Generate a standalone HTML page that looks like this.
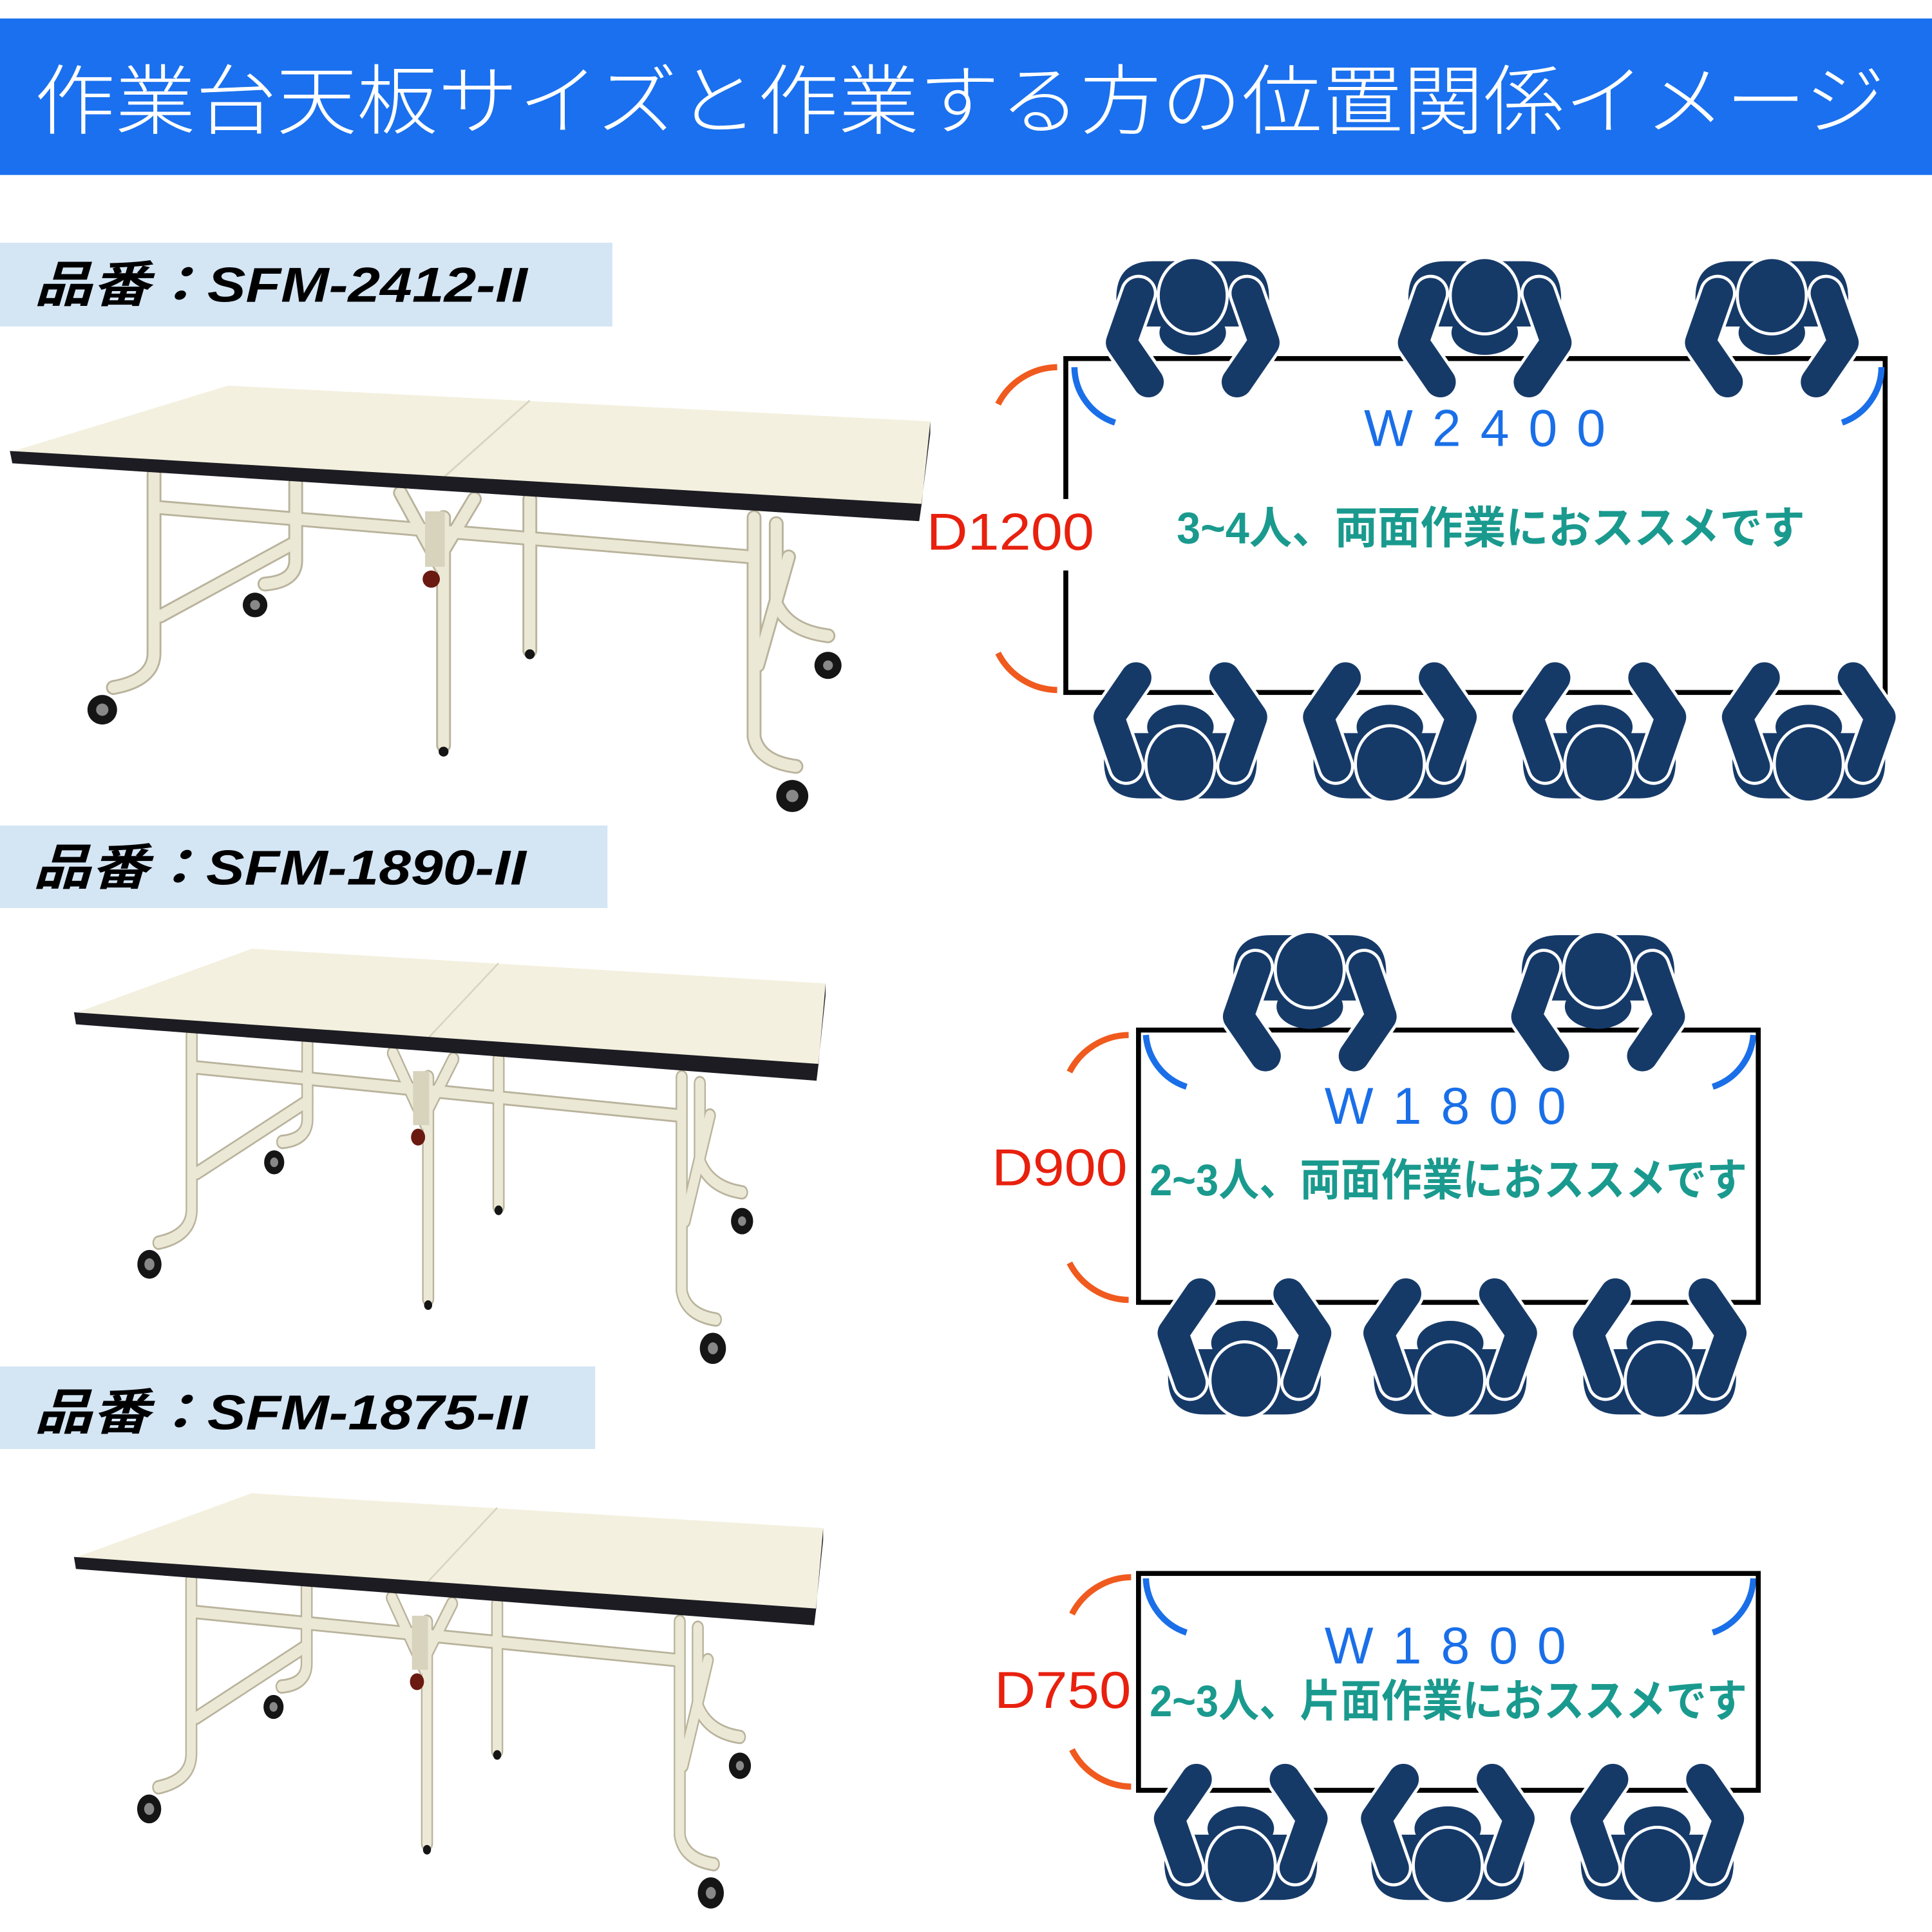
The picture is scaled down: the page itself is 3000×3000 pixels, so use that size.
<!DOCTYPE html>
<html><head><meta charset="utf-8"><style>
html,body{margin:0;padding:0;background:#fff;}
svg{display:block;}
text{font-family:"Liberation Sans","Noto Sans CJK JP",sans-serif;}
</style></head><body>
<svg width="3000" height="3000" viewBox="0 0 1568 1568" xmlns="http://www.w3.org/2000/svg">
<defs>
<g id="pt">
  <path d="M-62,25 L-62,2 Q-62,-28 -32,-28 L32,-28 Q62,-28 62,2 L62,25 Z" fill="#163a68"/>
  <polyline points="-44,-2 -58,38 -36,70" fill="none" stroke="#fff" stroke-width="30" stroke-linecap="round" stroke-linejoin="round"/>
  <polyline points="44,-2 58,38 36,70" fill="none" stroke="#fff" stroke-width="30" stroke-linecap="round" stroke-linejoin="round"/>
  <polyline points="-44,-2 -58,38 -36,70" fill="none" stroke="#163a68" stroke-width="25" stroke-linecap="round" stroke-linejoin="round"/>
  <polyline points="44,-2 58,38 36,70" fill="none" stroke="#163a68" stroke-width="25" stroke-linecap="round" stroke-linejoin="round"/>
  <ellipse cx="0" cy="30" rx="27" ry="18" fill="#163a68"/>
  <ellipse cx="0" cy="0" rx="28" ry="31" fill="#163a68" stroke="#fff" stroke-width="2.5"/>
</g>
<g id="pb"><use href="#pt" transform="scale(1,-1)"/></g>
<g id="tbl">
  <g fill="none" stroke-linecap="round">
    <g stroke="#b9b39c" stroke-width="12">
      <path d="M240,392 L240,455 Q240,472 215,474"/>
      <path d="M630,425 L630,490 Q640,512 672,516"/>
      <path d="M430,405 L430,528"/>
      <path d="M125,385 L125,530 Q125,552 92,558"/>
      <path d="M612,420 L612,598 Q616,618 646,622"/>
      <path d="M360,420 L360,605"/>
      <path d="M130,412 L610,452"/>
      <path d="M240,440 L130,500"/>
      <path d="M640,452 L615,540"/>
      <path d="M325,400 L355,455 L385,405"/>
    </g>
    <g stroke="#ece8d6" stroke-width="9">
      <path d="M240,392 L240,455 Q240,472 215,474"/>
      <path d="M630,425 L630,490 Q640,512 672,516"/>
      <path d="M430,405 L430,528"/>
      <path d="M125,385 L125,530 Q125,552 92,558"/>
      <path d="M612,420 L612,598 Q616,618 646,622"/>
      <path d="M360,420 L360,605"/>
      <path d="M130,412 L610,452"/>
      <path d="M240,440 L130,500"/>
      <path d="M640,452 L615,540"/>
      <path d="M325,400 L355,455 L385,405"/>
    </g>
  </g>
  <rect x="345" y="415" width="16" height="45" fill="#d8d3bd"/>
  <circle cx="350" cy="470" r="7" fill="#6a1a10"/>
  <circle cx="83" cy="576" r="12" fill="#151515"/><circle cx="83" cy="576" r="5" fill="#888"/>
  <circle cx="207" cy="491" r="10" fill="#151515"/><circle cx="207" cy="491" r="4" fill="#888"/>
  <circle cx="643" cy="646" r="13" fill="#151515"/><circle cx="643" cy="646" r="5" fill="#888"/>
  <circle cx="672" cy="540" r="11" fill="#151515"/><circle cx="672" cy="540" r="4" fill="#888"/>
  <circle cx="360" cy="610" r="4" fill="#151515"/>
  <circle cx="430" cy="531" r="4" fill="#151515"/>
  <polygon points="8,367 185,313 755,342 748,410" fill="#f3f0df"/>
  <line x1="430" y1="325" x2="355" y2="392" stroke="#d8d4c0" stroke-width="1.5"/>
  <polygon points="8,366 748,409 746,423 10,376" fill="#1c1c22"/>
  <polygon points="748,409 755,342 755,352 746,423" fill="#2a2a30"/>
</g>
</defs>

<rect x="0" y="15" width="1568" height="127" fill="#1a70ee"/>
<text x="28" y="104" font-size="62" fill="#fff" font-weight="300" textLength="1502" lengthAdjust="spacingAndGlyphs">作業台天板サイズと作業する方の位置関係イメージ</text>

<rect x="0" y="197" width="497" height="68" fill="#d4e5f4"/>
<text x="28" y="245" font-size="40" font-weight="bold" font-style="italic" fill="#000" textLength="400" lengthAdjust="spacingAndGlyphs">品番：SFM-2412-II</text>
<rect x="0" y="670" width="493" height="67" fill="#d4e5f4"/>
<text x="27" y="718" font-size="40" font-weight="bold" font-style="italic" fill="#000" textLength="400" lengthAdjust="spacingAndGlyphs">品番：SFM-1890-II</text>
<rect x="0" y="1109" width="483" height="67" fill="#d4e5f4"/>
<text x="28" y="1160" font-size="40" font-weight="bold" font-style="italic" fill="#000" textLength="400" lengthAdjust="spacingAndGlyphs">品番：SFM-1875-II</text>

<use href="#tbl"/>
<use href="#tbl" transform="translate(53.5,465.1) scale(0.8166,0.974)"/>
<use href="#tbl" transform="translate(53.5,907.1) scale(0.814,0.974)"/>

<rect x="865" y="291" width="665" height="271" fill="none" stroke="#000" stroke-width="4"/>
<rect x="858" y="405" width="14" height="58" fill="#fff"/>
<use href="#pt" x="968" y="240"/><use href="#pt" x="1205" y="240"/><use href="#pt" x="1438" y="240"/>
<use href="#pb" x="958" y="620"/><use href="#pb" x="1128" y="620"/><use href="#pb" x="1298" y="620"/><use href="#pb" x="1468" y="620"/>
<g fill="none" stroke="#1a6fe8" stroke-width="5">
<path d="M872,298 A48,48 0 0 0 905,343"/><path d="M1527,298 A48,48 0 0 1 1495,343"/>
<path d="M930,840 A48,48 0 0 0 963,882"/><path d="M1423,840 A48,48 0 0 1 1390,882"/>
<path d="M930,1281 A48,48 0 0 0 963,1325"/><path d="M1423,1281 A48,48 0 0 1 1390,1325"/>
</g>
<g fill="none" stroke="#f05a1e" stroke-width="5">
<path d="M858,298 A55,55 0 0 0 810,328"/><path d="M810,530 A55,55 0 0 0 858,560"/>
<path d="M916,840 A55,55 0 0 0 868,870"/><path d="M868,1025 A55,55 0 0 0 916,1055"/>
<path d="M918,1280 A55,55 0 0 0 870,1310"/><path d="M870,1420 A55,55 0 0 0 918,1450"/>
</g>
<text x="1107" y="362" font-size="42" fill="#1a6fe8" textLength="196" lengthAdjust="spacing">W2400</text>
<text x="752" y="446" font-size="42" fill="#e8200e" textLength="136" lengthAdjust="spacingAndGlyphs">D1200</text>
<text x="955" y="441" font-size="36" font-weight="bold" fill="#1a9a8e" textLength="510" lengthAdjust="spacingAndGlyphs">3~4人、両面作業におススメです</text>

<rect x="924" y="836" width="503" height="221" fill="none" stroke="#000" stroke-width="4"/>
<use href="#pt" x="1063" y="787"/><use href="#pt" x="1297" y="787"/>
<use href="#pb" x="1010" y="1120"/><use href="#pb" x="1177" y="1120"/><use href="#pb" x="1347" y="1120"/>
<text x="1075" y="912" font-size="42" fill="#1a6fe8" textLength="196" lengthAdjust="spacing">W1800</text>
<text x="805" y="962" font-size="42" fill="#e8200e" textLength="110" lengthAdjust="spacingAndGlyphs">D900</text>
<text x="933" y="970" font-size="36" font-weight="bold" fill="#1a9a8e" textLength="485" lengthAdjust="spacingAndGlyphs">2~3人、両面作業におススメです</text>

<rect x="924" y="1277" width="503" height="176" fill="none" stroke="#000" stroke-width="4"/>
<use href="#pb" x="1007" y="1514"/><use href="#pb" x="1175" y="1514"/><use href="#pb" x="1345" y="1514"/>
<text x="1075" y="1350" font-size="42" fill="#1a6fe8" textLength="196" lengthAdjust="spacing">W1800</text>
<text x="807" y="1386" font-size="42" fill="#e8200e" textLength="111" lengthAdjust="spacingAndGlyphs">D750</text>
<text x="933" y="1393" font-size="36" font-weight="bold" fill="#1a9a8e" textLength="485" lengthAdjust="spacingAndGlyphs">2~3人、片面作業におススメです</text>
</svg>
</body></html>
